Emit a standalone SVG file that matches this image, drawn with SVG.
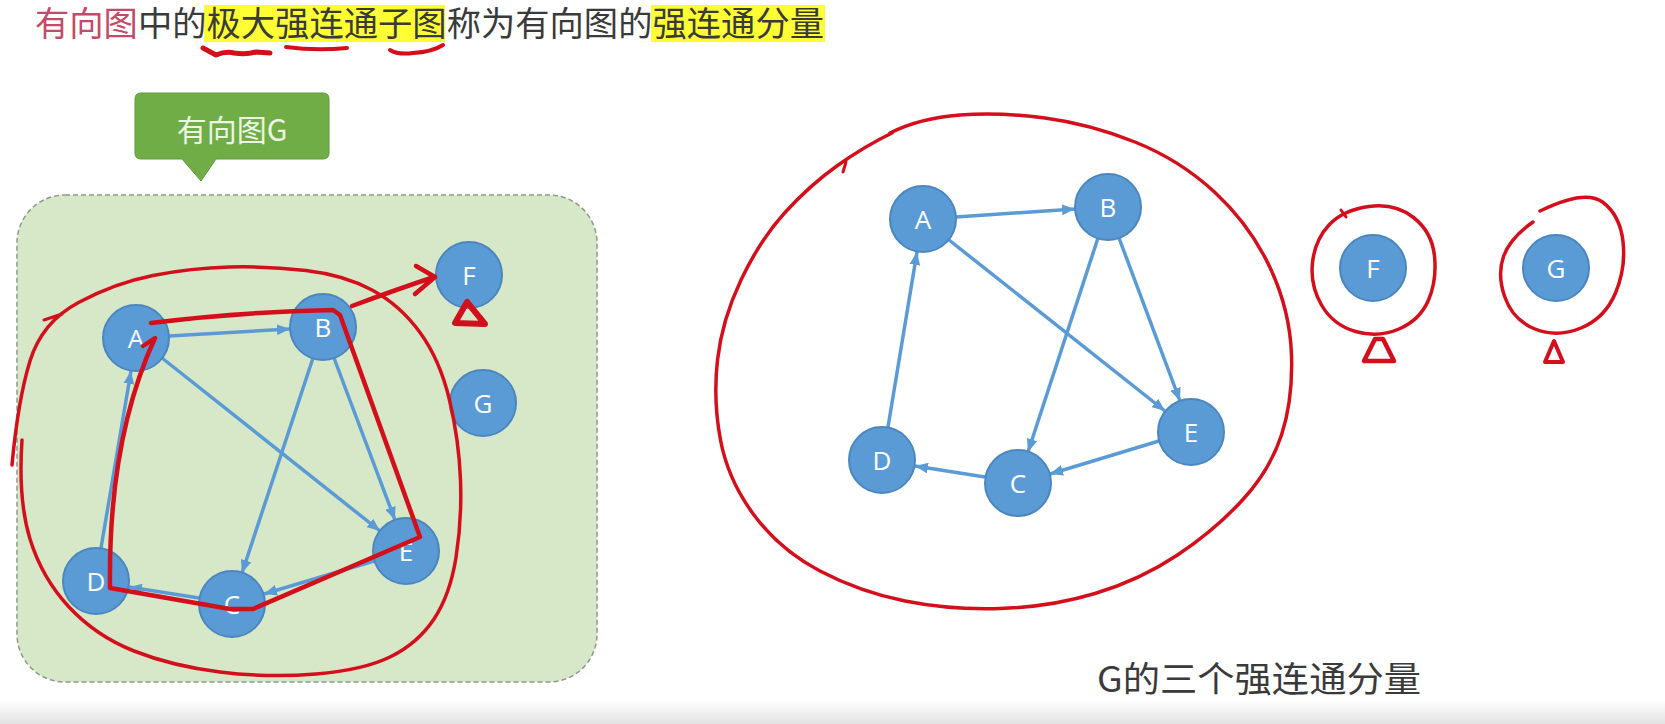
<svg xmlns="http://www.w3.org/2000/svg" width="1665" height="724" viewBox="0 0 1665 724">
<style>
.title{font-family:"Noto Sans CJK SC","Noto Sans",sans-serif;font-size:34px}
.node circle{fill:#5b9bd5;stroke:#4b86bf;stroke-width:2}
.node text{font-family:"Open Sans","Liberation Sans",sans-serif;font-size:26px;fill:#ffffff;text-anchor:middle;dominant-baseline:central}
.edge{stroke:#5b9bd5;stroke-width:3.5;fill:none;marker-end:url(#arr)}
.ink{stroke:#d40f1c;fill:none;stroke-linecap:round;stroke-linejoin:round}
</style>
<defs>
<marker id="arr" viewBox="0 0 12 10" refX="12" refY="5" markerWidth="13" markerHeight="11" markerUnits="userSpaceOnUse" orient="auto">
<path d="M0,0 L12,5 L0,10 Z" fill="#5b9bd5"/>
</marker>
<linearGradient id="bot" x1="0" y1="0" x2="0" y2="1">
<stop offset="0" stop-color="#ffffff"/>
<stop offset="1" stop-color="#e2e2e2"/>
</linearGradient>
</defs>
<rect width="1665" height="724" fill="#ffffff"/>
<rect x="0" y="700" width="1665" height="24" fill="url(#bot)"/>

<g id="title">
<rect x="204" y="5" width="241" height="37" fill="#ffff33"/>
<rect x="651" y="5" width="174" height="37" fill="#ffff33"/>
<text class="title" x="35" y="36" textLength="789" lengthAdjust="spacingAndGlyphs"><tspan fill="#c24a6a">有向图</tspan><tspan fill="#3a3a3a">中的极大强连通子图称为有向图的强连通分量</tspan></text>
<path class="ink" stroke-width="5" d="M203,48 L216,55 Q226,51 234,53 Q246,55 256,52 L270,53"/>
<path class="ink" stroke-width="4" d="M286,47 Q316,51 347,48"/>
<path class="ink" stroke-width="4" d="M390,50 Q398,55 413,53 Q432,52 443,45"/>
</g>

<g id="callout">
<path d="M141,93 H323 Q329,93 329,99 V153 Q329,159 323,159 H216 L201,181 L182,159 H141 Q135,159 135,153 V99 Q135,93 141,93 Z" fill="#70ad47" stroke="#5e9a3a" stroke-width="1"/>
<text x="232" y="128" font-family="Noto Sans CJK SC,Noto Sans,sans-serif" font-size="30" fill="#eaf6e2" text-anchor="middle" dominant-baseline="central">有向图G</text>
</g>

<g id="graphG-frame">
<rect x="17" y="195" width="580" height="487" rx="48" ry="48" fill="#d6e8c8" stroke="#8c9a8c" stroke-width="1.5" stroke-dasharray="5 3"/>
</g>

<g id="connectors">
<line class="edge" x1="169" y1="336" x2="290" y2="329"/>
<line class="edge" x1="162" y1="358" x2="380" y2="531"/>
<line class="edge" x1="313" y1="358" x2="242" y2="573"/>
<line class="edge" x1="334" y1="358" x2="395" y2="520"/>
<line class="edge" x1="101" y1="548" x2="131" y2="371"/>
<line class="edge" x1="199" y1="598" x2="129" y2="587"/>
<line class="edge" x1="374" y1="561" x2="264" y2="594"/>
<line class="edge" x1="956" y1="217" x2="1075" y2="209"/>
<line class="edge" x1="949" y1="240" x2="1165" y2="411"/>
<line class="edge" x1="1098" y1="238" x2="1028" y2="452"/>
<line class="edge" x1="1119" y1="238" x2="1180" y2="401"/>
<line class="edge" x1="888" y1="427" x2="917" y2="252"/>
<line class="edge" x1="985" y1="477" x2="915" y2="466"/>
<line class="edge" x1="1159" y1="441" x2="1050" y2="474"/>
</g>

<g id="L-A" class="node"><circle cx="136" cy="338" r="33"/><text x="136" y="338">A</text></g>
<g id="L-B" class="node"><circle cx="323" cy="327" r="33"/><text x="323" y="327">B</text></g>
<g id="L-C" class="node"><circle cx="232" cy="604" r="33"/><text x="232" y="604">C</text></g>
<g id="L-D" class="node"><circle cx="96" cy="581" r="33"/><text x="96" y="581">D</text></g>
<g id="L-E" class="node"><circle cx="406" cy="551" r="33"/><text x="406" y="551">E</text></g>
<g id="L-F" class="node"><circle cx="469" cy="275" r="33"/><text x="469" y="275">F</text></g>
<g id="L-G" class="node"><circle cx="483" cy="403" r="33"/><text x="483" y="403">G</text></g>

<g id="R-A" class="node"><circle cx="923" cy="219" r="33"/><text x="923" y="219">A</text></g>
<g id="R-B" class="node"><circle cx="1108" cy="207" r="33"/><text x="1108" y="207">B</text></g>
<g id="R-C" class="node"><circle cx="1018" cy="483" r="33"/><text x="1018" y="483">C</text></g>
<g id="R-D" class="node"><circle cx="882" cy="460" r="33"/><text x="882" y="460">D</text></g>
<g id="R-E" class="node"><circle cx="1191" cy="432" r="33"/><text x="1191" y="432">E</text></g>
<g id="R-F" class="node"><circle cx="1373" cy="268" r="33"/><text x="1373" y="268">F</text></g>
<g id="R-G" class="node"><circle cx="1556" cy="268" r="33"/><text x="1556" y="268">G</text></g>

<g id="annotations">
<path class="ink" stroke-width="3.5" d="M12,465 Q18,400 30,361 Q42,322 78.5,302.5 Q115,283 153,275.5 Q191,268 229.5,267 Q268,266 306,270.5 Q344,275 372,290 Q400,305 420,332.5 Q440,360 449.5,400 Q459,440 460.5,480 Q462,520 456,557.5 Q450,595 434,619 Q418,643 391,656.5 Q364,670 316,674 Q268,678 220,672 Q172,666 134,651 Q96,636 69,607 Q42,578 30,539 Q18,500 22,440"/>
<path class="ink" stroke-width="3" d="M44,320 L62,314"/>
<path class="ink" stroke-width="4.5" d="M151,323 Q240,312 333,310 L340,315 L420,537 L253,609 L230,609 L110,588 Q108,440 155,338 L143,346"/>
<path class="ink" stroke-width="4.5" d="M352,306 Q395,290 434,277 M416,266 L435,277 L415,294"/>
<path class="ink" stroke-width="6" d="M467,302 L455,323 L485,324 Z"/>
<path class="ink" stroke-width="3.5" d="M890,133 Q920,118 960,115 Q1000,112 1045,118 Q1090,124 1135,142 Q1180,160 1215,192.5 Q1250,225 1270,267.5 Q1290,310 1291.5,355 Q1293,400 1281.5,435 Q1270,470 1242.5,500 Q1215,530 1177.5,555 Q1140,580 1095,593.5 Q1050,607 1000,608.5 Q950,610 905,601 Q860,592 820,571 Q780,550 754,515 Q728,480 720.5,440 Q713,400 717.5,360 Q722,320 741,280 Q760,240 785,212.5 Q810,185 837.5,165.5 Q865,146 892,133"/>
<path class="ink" stroke-width="3" d="M846,162 L843,172"/>
<path class="ink" stroke-width="3.5" d="M1369,206.5 Q1395,203 1413.5,217.5 Q1432,232 1434.5,256 Q1437,280 1428.5,300 Q1420,320 1399,329 Q1378,338 1355.5,331.5 Q1333,325 1321.5,305 Q1310,285 1312.5,262.5 Q1315,240 1329,225 Q1343,210 1369,206.5 Z"/>
<path class="ink" stroke-width="3" d="M1341,210 L1346,217"/>
<path class="ink" stroke-width="4.5" d="M1375,339 L1364,361 L1394,361 L1383,339 Z"/>
<path class="ink" stroke-width="3.5" d="M1540,211 Q1585,189 1602.5,202 Q1620,215 1623,241.5 Q1626,268 1615.5,293 Q1605,318 1581,328 Q1557,338 1535,329 Q1513,320 1505,297.5 Q1497,275 1503.5,256.5 Q1510,238 1533,222"/>
<path class="ink" stroke-width="4" fill="#d40f1c" d="M1554,341 L1545,362 L1563,362 Z"/>
</g>

<g id="caption">
<text x="1097" y="692" font-family="Noto Sans CJK SC,Noto Sans,sans-serif" font-size="35" fill="#3a3a3a" textLength="324" lengthAdjust="spacingAndGlyphs">G的三个强连通分量</text>
</g>
</svg>
